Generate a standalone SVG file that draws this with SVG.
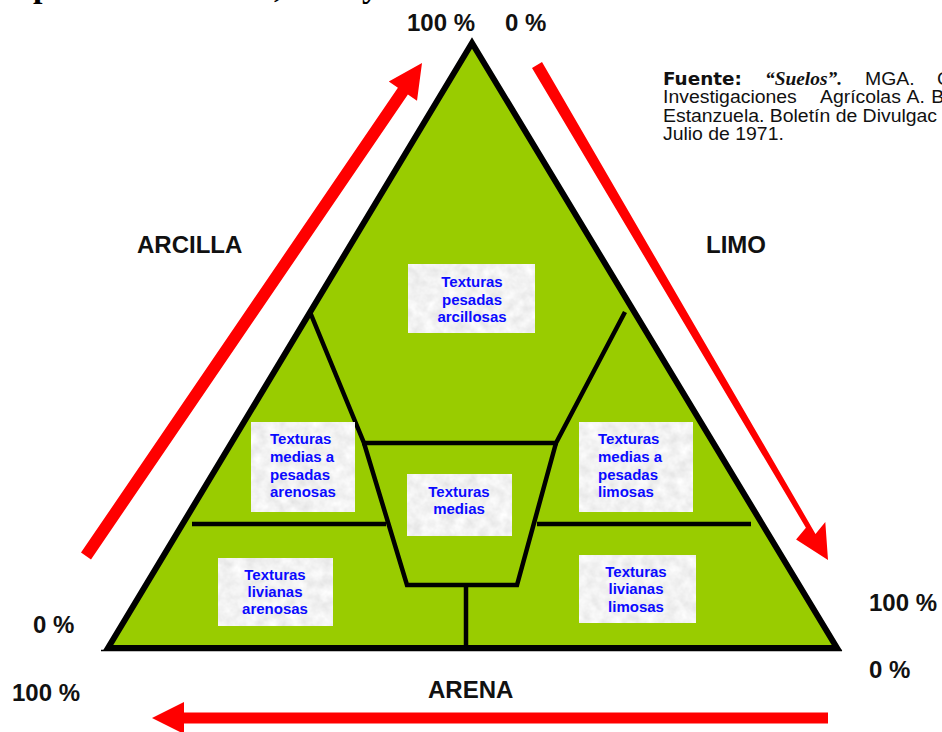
<svg xmlns="http://www.w3.org/2000/svg" width="942" height="732" viewBox="0 0 942 732">
  <defs>
    <filter id="marble" x="0" y="0" width="1" height="1">
      <feTurbulence type="fractalNoise" baseFrequency="0.09" numOctaves="3" seed="7" result="noise"/>
      <feColorMatrix in="noise" type="matrix" values="0.3 0 0 0 0.74  0.3 0 0 0 0.74  0.3 0 0 0 0.74  0 0 0 0 1" result="gray"/>
      <feComposite in="gray" in2="SourceGraphic" operator="in"/>
    </filter>
    <style>
      .lbl { font-family: "Liberation Sans", Arial, sans-serif; font-weight: bold; font-size: 24px; fill: #111; }
      .box { fill: #eeeeee; filter: url(#marble); }
      .bt { font-family: "Liberation Sans", Arial, sans-serif; font-weight: bold; font-size: 15px; fill: #0a0aff; }
      .div { stroke: #000; stroke-width: 4.5; fill: none; stroke-linejoin: miter; }
      .arrow { fill: #ff0000; }
      .src { font-family: "Liberation Sans", Arial, sans-serif; font-size: 18.5px; fill: #111; }
      .head { font-family: "Liberation Serif", "Times New Roman", serif; font-weight: bold; font-size: 34px; fill: #000; }
    </style>
  </defs>

  <rect width="942" height="732" fill="#ffffff"/>

  <!-- heading line above, clipped by the top edge -->
  <g id="heading">
    <text class="head" x="33" y="-3">p</text>
    <text class="head" x="274" y="-3">,</text>
    <text class="head" x="362" y="-3">y</text>
  </g>

  <!-- texture triangle -->
  <g id="triangle">
    <line x1="101" y1="650.5" x2="842" y2="650.5" stroke="#000" stroke-width="1.5"/>
    <polygon points="472,43 108,648 837,648" fill="#99cc00" stroke="#000" stroke-width="6" stroke-linejoin="miter"/>
    <!-- class boundaries -->
    <polyline class="div" points="310,312 364,443 407,585 517,585 556,443 625,312"/>
    <line class="div" x1="362" y1="443" x2="558" y2="443"/>
    <line class="div" x1="466" y1="585" x2="466" y2="648"/>
    <line class="div" x1="192" y1="524" x2="386" y2="524"/>
    <line class="div" x1="537" y1="524" x2="751" y2="524"/>
  </g>

  <!-- axis direction arrows -->
  <g id="connectors">
    <polygon class="arrow" points="91,559.4 407.9,94.5 417,100.7 422,63 388.8,81.5 397.9,87.7 81,552.6"/>
    <polygon class="arrow" points="532,68 805.9,527.7 796.1,539.5 828,560 825.3,522.1 815.5,533.9 542,62"/>
    <polygon class="arrow" points="828,712.5 184,712.5 184,702 152,718 184,734 184,723.5 828,723.5"/>
  </g>

  <!-- axis labels -->
  <g id="labels">
    <text class="lbl" x="407" y="31">100 %</text>
    <text class="lbl" x="505" y="31">0 %</text>
    <text class="lbl" x="137" y="253">ARCILLA</text>
    <text class="lbl" x="706" y="253">LIMO</text>
    <text class="lbl" x="33" y="633">0 %</text>
    <text class="lbl" x="12" y="701">100 %</text>
    <text class="lbl" x="428" y="698">ARENA</text>
    <text class="lbl" x="869" y="611">100 %</text>
    <text class="lbl" x="869" y="678">0 %</text>
  </g>

  <!-- source note, set slightly wide -->
  <g id="source" transform="translate(663,0) scale(1.05,1) translate(-663,0)">
    <text class="src" y="85"><tspan x="663" font-family="'DejaVu Sans', Verdana, sans-serif" font-weight="bold" font-size="17.5">Fuente:</tspan><tspan x="760.1" font-family="'Liberation Serif', 'Times New Roman', serif" font-weight="bold" font-style="italic">“Suelos”.</tspan><tspan x="855.4">MGA.</tspan><tspan x="924">C</tspan></text>
    <text class="src" y="103.5"><tspan x="663">Investigaciones</tspan><tspan x="812.5">Agrícolas</tspan><tspan x="895">A.</tspan><tspan x="918.5">B</tspan></text>
    <text class="src" x="663" y="122">Estanzuela. Boletín de Divulgac</text>
    <text class="src" x="663" y="140.5">Julio de 1971.</text>
  </g>

  <!-- texture classes -->
  <g id="pesadas-arcillosas">
    <rect class="box" x="408" y="264" width="127" height="69"/>
    <text class="bt" text-anchor="middle"><tspan x="472" y="287">Texturas</tspan><tspan x="472" y="305">pesadas</tspan><tspan x="472" y="322">arcillosas</tspan></text>
  </g>
  <g id="medias-pesadas-arenosas">
    <rect class="box" x="251" y="422" width="104" height="90"/>
    <text class="bt"><tspan x="270" y="444">Texturas</tspan><tspan x="270" y="462">medias a</tspan><tspan x="270" y="480">pesadas</tspan><tspan x="270" y="497">arenosas</tspan></text>
  </g>
  <g id="medias-pesadas-limosas">
    <rect class="box" x="579" y="422" width="114" height="90"/>
    <text class="bt"><tspan x="598" y="444">Texturas</tspan><tspan x="598" y="462">medias a</tspan><tspan x="598" y="480">pesadas</tspan><tspan x="598" y="497">limosas</tspan></text>
  </g>
  <g id="medias">
    <rect class="box" x="407" y="474" width="105" height="62"/>
    <text class="bt" text-anchor="middle"><tspan x="459" y="497">Texturas</tspan><tspan x="459" y="514">medias</tspan></text>
  </g>
  <g id="livianas-arenosas">
    <rect class="box" x="218" y="558" width="115" height="68"/>
    <text class="bt" text-anchor="middle"><tspan x="275" y="580">Texturas</tspan><tspan x="275" y="597">livianas</tspan><tspan x="275" y="614">arenosas</tspan></text>
  </g>
  <g id="livianas-limosas">
    <rect class="box" x="579" y="555" width="117" height="68"/>
    <text class="bt" text-anchor="middle"><tspan x="636" y="577">Texturas</tspan><tspan x="636" y="594">livianas</tspan><tspan x="636" y="612">limosas</tspan></text>
  </g>
</svg>
